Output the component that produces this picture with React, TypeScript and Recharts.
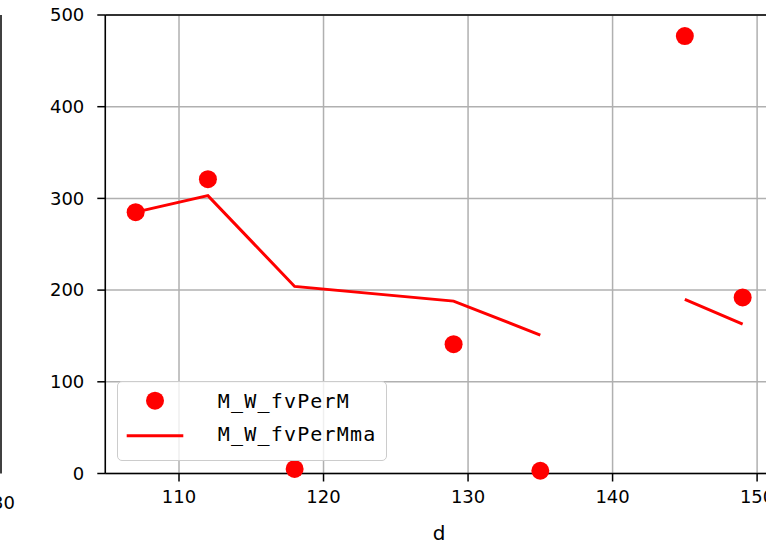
import React from 'react';
import {
  ComposedChart,
  Line,
  XAxis,
  YAxis,
  CartesianGrid,
  Legend,
  ReferenceLine,
} from 'recharts';

// x values (d); the 140 row is a gap in the data
const dValues = [107, 112, 118, 129, 135, 140, 145, 149];
const fvPerM = [285, 321, 5, 141, 3, null, 477, 192];
const fvPerMma = [285, 303, 204, 188, 151, null, 190, 163];
const xTicks = [110, 120, 130, 140, 150];
const yTicks = [0, 100, 200, 300, 400, 500];

const data = dValues.map((d, i) => ({ d, fvPerM: fvPerM[i], fvPerMma: fvPerMma[i] }));

const RED = '#ff0000';
const tickFont = { fontSize: 18, fill: '#000', fontFamily: 'DejaVu Sans' };

const LegendBox = () => (
  <div
    style={{
      width: 268,
      height: 78,
      border: '1px solid #cccccc',
      borderRadius: 5,
      background: 'rgba(255,255,255,0.8)',
      position: 'relative',
      fontFamily: 'DejaVu Sans Mono',
      fontSize: 20,
      letterSpacing: 1.2,
      color: '#000',
      lineHeight: '24px',
    }}
  >
    <svg width={80} height={78} style={{ position: 'absolute', left: 0, top: 0 }}>
      <circle cx={37} cy={18.7} r={9} fill={RED} />
      <line x1={8.7} x2={65.3} y1={53.7} y2={53.7} stroke={RED} strokeWidth={3} />
    </svg>
    <div style={{ position: 'absolute', left: 99.7, top: 7 }}>M_W_fvPerM</div>
    <div style={{ position: 'absolute', left: 99.7, top: 40 }}>M_W_fvPerMma</div>
  </div>
);

export default function App() {
  return (
    <div
      style={{
        position: 'absolute',
        left: 0,
        top: 0,
        width: 766,
        height: 542,
        overflow: 'hidden',
        background: '#fff',
      }}
    >
      {/* edge of the neighbouring subplot */}
      <svg width={30} height={542} style={{ position: 'absolute', left: 0, top: 0 }}>
        <line x1={1} x2={1} y1={15} y2={473.5} stroke="#000" strokeWidth={1.5} />
        <text x={15} y={509} textAnchor="end" fontSize={18} fontFamily="DejaVu Sans" fill="#000">
          130
        </text>
      </svg>
      <ComposedChart
        width={773}
        height={542}
        data={data}
        margin={{ top: 15, right: 0, bottom: 0.5, left: 0 }}
        style={{ position: 'absolute', left: 0, top: 0 }}
      >
        <CartesianGrid stroke="#b0b0b0" strokeWidth={1.5} />
        <XAxis
          dataKey="d"
          type="number"
          domain={[104.9, 151.1]}
          ticks={xTicks}
          allowDataOverflow
          height={68}
          tick={tickFont}
          tickSize={8}
          tickMargin={9}
          axisLine={{ stroke: '#000', strokeWidth: 1.5 }}
          tickLine={{ stroke: '#000', strokeWidth: 1.5 }}
          label={{ value: 'd', position: 'insideBottom', offset: 2, fontSize: 20, fill: '#000', fontFamily: 'DejaVu Sans' }}
        />
        <YAxis
          type="number"
          domain={[0, 500]}
          ticks={yTicks}
          width={105.3}
          tick={tickFont}
          tickSize={8}
          tickMargin={13}
          axisLine={{ stroke: '#000', strokeWidth: 1.5 }}
          tickLine={{ stroke: '#000', strokeWidth: 1.5 }}
        />
        <ReferenceLine y={500} stroke="#000" strokeWidth={1.5} />
        <Legend
          layout="vertical"
          align="center"
          verticalAlign="middle"
          content={() => <LegendBox />}
          wrapperStyle={{ left: 117, top: 381, width: 270, height: 80 }}
        />
        <Line
          dataKey="fvPerMma"
          name="M_W_fvPerMma"
          stroke={RED}
          strokeWidth={3}
          dot={false}
          activeDot={false}
          isAnimationActive={false}
          type="linear"
        />
        <Line
          dataKey="fvPerM"
          name="M_W_fvPerM"
          stroke="none"
          dot={{ r: 9, fill: RED, stroke: 'none' }}
          activeDot={false}
          isAnimationActive={false}
        />
      </ComposedChart>
    </div>
  );
}
